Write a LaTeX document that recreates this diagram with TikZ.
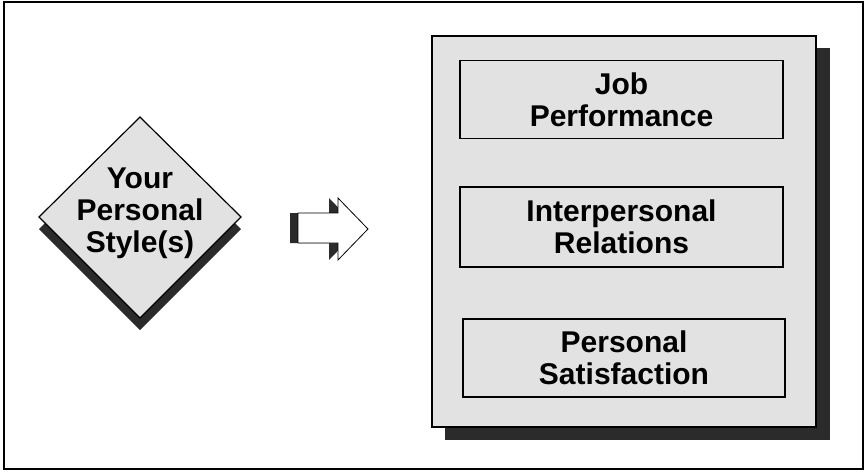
\documentclass[tikz,border=0pt]{standalone}
\usepackage{fontspec}
\setmainfont{Liberation Sans}
\definecolor{panel}{HTML}{E2E2E2}
\definecolor{shadowgray}{HTML}{2B2B2B}
\begin{document}
\begin{tikzpicture}[x=1pt,y=-1pt,
  lbl/.style={font=\fontsize{30}{32}\selectfont\bfseries, align=center, text=black},
  card/.style={draw=black, line width=1.2pt, fill=panel},
  dropshadow/.style={fill=shadowgray, draw=none},
  inbox/.style={card, lbl, minimum width=323pt, minimum height=78pt, inner sep=0pt}]
\useasboundingbox (0,0) rectangle (865,472);
\draw[line width=1.2pt] (4,2) rectangle (863,469);
% diamond
\path[dropshadow] (140,129) -- (241,229) -- (140,330) -- (39,229) -- cycle;
\draw[card] (140,117) -- (241,217) -- (140,318) -- (39,217) -- cycle;
\node[lbl] (style) at (140,213) {Your\\Personal\\Style(s)};
% block arrow
\path[dropshadow] (290,213) -- (329,213) -- (329,198) -- (359,229) -- (329,260) -- (329,243) -- (290,243) -- cycle;
\draw[fill=white, line width=0.8pt] (298,213) -- (338,213) -- (338,198) -- (368,229) -- (338,260) -- (338,243) -- (298,243) -- cycle;
% outcome panel
\path[dropshadow] (445,48) rectangle (830,440);
\draw[card] (432,36) rectangle (816,427);
\node[inbox] (job) at (621.5,99.5) {Job\\Performance};
\node[inbox, minimum height=80pt] (rel) at (621.5,227) {Interpersonal\\Relations};
\node[inbox, minimum width=322pt] (sat) at (624,358) {Personal\\Satisfaction};
\end{tikzpicture}
\end{document}
